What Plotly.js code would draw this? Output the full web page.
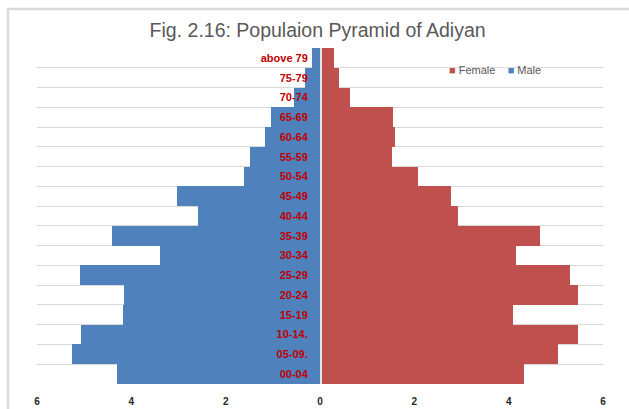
<!DOCTYPE html>
<html>
<head>
<meta charset="utf-8">
<script src="https://cdn.plot.ly/plotly-3.0.1.min.js"></script>
<style>html,body{margin:0;padding:0;background:#fff;}#chart{width:629px;height:409px;}</style>
</head>
<body>
<div id="chart"></div>
<script>
const ageGroups = ["above 79","75-79","70-74","65-69","60-64","55-59","50-54","45-49","40-44","35-39","30-34","25-29","20-24","15-19","10-14.","05-09.","00-04"];
const male   = [0.18,0.32,0.55,1.04,1.16,1.48,1.61,3.03,2.59,4.40,3.39,5.08,4.15,4.18,5.06,5.25,4.31];
const female = [0.30,0.41,0.64,1.55,1.60,1.53,2.08,2.78,2.92,4.67,4.15,5.29,5.48,4.09,5.48,5.05,4.33];
const xTickVals = [-6,-4,-2,0,2,4,6];
const xTickText = ["6","4","2","0","2","4","6"];
const seriesNames = ["Female","Male"];
const seriesColors = ["#c0504d","#4f81bd"];

const traces = [
  {type:'bar', orientation:'h', name:seriesNames[0], y:ageGroups, x:female,
   marker:{color:seriesColors[0], line:{width:0}}, showlegend:false},
  {type:'bar', orientation:'h', name:seriesNames[1], y:ageGroups, x:male.map(v => -v),
   marker:{color:seriesColors[1], line:{width:0}}, showlegend:false}
];

const legendText = seriesNames.map((n,i) =>
  '<span style="color:' + seriesColors[i] + '">■</span> ' + n).join('&nbsp;&nbsp;&nbsp;&nbsp;');

const layout = {
  width:629, height:409,
  paper_bgcolor:'#ffffff', plot_bgcolor:'#ffffff',
  margin:{l:37, r:26, t:48, b:25},
  barmode:'relative', bargap:0,
  font:{family:'Liberation Sans, Arial, sans-serif'},
  showlegend:false,
  title:{text:'Fig. 2.16: Populaion Pyramid of Adiyan', font:{size:19.5, color:'#595959', family:'Liberation Sans, Arial, sans-serif'},
         x:0.505, xanchor:'center', y:1-30/409, yanchor:'middle'},
  xaxis:{range:[-6,6], tickvals:xTickVals, ticktext:xTickText, showgrid:false, zeroline:false,
         showline:false, ticks:'', ticklabelstandoff:10,
         tickfont:{size:10, color:'#262626', family:'Liberation Sans, Arial, sans-serif', weight:'bold'}},
  yaxis:{type:'category', autorange:'reversed', anchor:'free', position:0.5, side:'left',
         tickson:'boundaries', showgrid:true, gridcolor:'#d9d9d9', gridwidth:1,
         showline:true, linecolor:'#e4e4e4', linewidth:1.5, ticks:'', ticklabelstandoff:10,
         tickfont:{size:11, color:'#c00000', family:'Liberation Sans, Arial, sans-serif', weight:'bold'},
         zeroline:false},
  annotations:[{xref:'paper', yref:'paper', x:(447-37)/566, y:(384-70)/336, xanchor:'left', yanchor:'middle',
                showarrow:false, text:legendText, font:{size:11, color:'#595959'}}],
  shapes:[{type:'rect', xref:'paper', yref:'paper', x0:(8-37)/566, x1:1.3, y0:-0.3, y1:(384-9)/336,
           line:{color:'#d9d9d9', width:2.5}, fillcolor:'rgba(0,0,0,0)', layer:'below'}]
};

Plotly.newPlot('chart', traces, layout, {displayModeBar:false, staticPlot:true});
</script>
</body>
</html>
